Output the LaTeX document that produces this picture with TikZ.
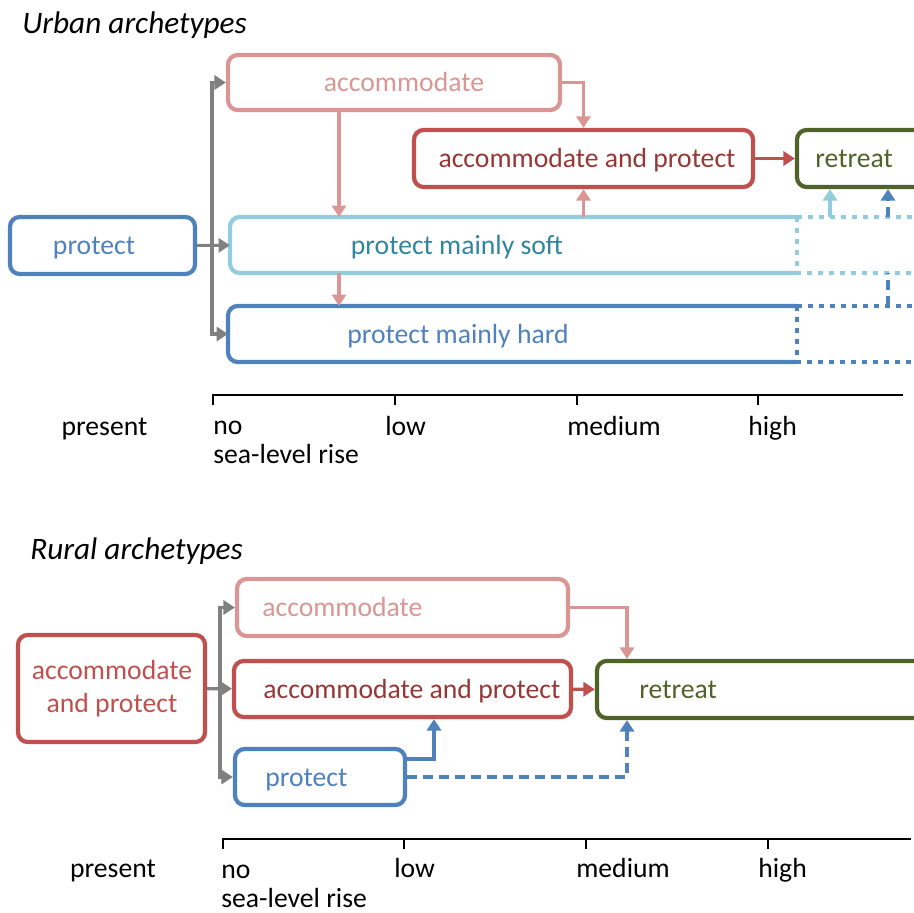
\documentclass[tikz,border=0pt]{standalone}
\usepackage{fontspec}
\setmainfont{Carlito}
\usepackage{tikz}
\usetikzlibrary{arrows.meta,fit}

\definecolor{acclight}{HTML}{D99694}
\definecolor{apred}{HTML}{C0504D}
\definecolor{aptext}{HTML}{953735}
\definecolor{retgreen}{HTML}{4F6228}
\definecolor{protblue}{HTML}{4F81BD}
\definecolor{softblue}{HTML}{93CDDD}
\definecolor{softtext}{HTML}{31859C}
\definecolor{linkgrey}{HTML}{808080}

\begin{document}
\begin{tikzpicture}[x=0.02cm,y=-0.02cm,
	box/.style={draw,line width=2.4pt,rounded corners=5.5pt,inner sep=0pt},
	open/.style={inner sep=0pt,outer sep=0pt},
	edge/.style={line width=2.4pt},
	txt/.style={font=\fontsize{15.75}{16}\selectfont,inner sep=0pt,text height=10.4pt,text depth=0pt},
	txttwo/.style={font=\fontsize{15.75}{18.7}\selectfont,inner sep=0pt,align=center},
	lbl/.style={font=\fontsize{15.75}{16.5}\selectfont,inner sep=0pt,anchor=base west,align=left},
	ttl/.style={font=\fontsize{17.8}{20}\selectfont\itshape,inner sep=0pt,anchor=base west},
	link/.style={line width=1.8pt,-{Triangle[length=6.5pt,width=8pt]}},
	dots/.style={dash pattern=on 0.1cm off 0.12cm},
	dashes/.style={dash pattern=on 0.2cm off 0.12cm},
	axis/.style={line width=1.1pt}]
	\useasboundingbox (0,0) rectangle (914,913);
	\clip (0,0) rectangle (914,913);

	\node[ttl] (ut) at (22,33) {Urban archetypes};
	\node[box,draw=acclight,fit={(228,55)(560,110)}] (ua) {};
	\node[txt,text=acclight] (uat) at (404,82.5) {accommodate};
	\node[box,draw=apred,fit={(414,130)(753,187)}] (uap) {};
	\node[txt,text=aptext] (uapt) at (587,158.5) {accommodate and protect};
	\node[box,draw=retgreen,fit={(797,130)(960,187)}] (ur) {};
	\node[txt,text=retgreen,anchor=west] (urt) at (815,158.5) {retreat};
	\node[box,draw=protblue,fit={(10,217)(195,274)}] (up) {};
	\node[txt,text=protblue] (upt) at (94,245.5) {protect};
	\node[open,fit={(230,217)(797,273)}] (us) {};
	\node[txt,text=softtext] (ust) at (457,245) {protect mainly soft};
	\node[open,fit={(228,306)(797,362)}] (uh) {};
	\node[txt,text=protblue] (uht) at (458,334) {protect mainly hard};
	\draw[edge,softblue,rounded corners=5.5pt] (us.north east) -- (us.north west) -- (us.south west) -- (us.south east);
	\draw[edge,softblue,dots] (us.north east) -- ++(130,0) (us.north east) -- (us.south east) -- ++(130,0);
	\draw[edge,protblue,rounded corners=5.5pt] (uh.north east) -- (uh.north west) -- (uh.south west) -- (uh.south east);
	\draw[edge,protblue,dots] (uh.north east) -- ++(130,0) (uh.north east) -- (uh.south east) -- ++(130,0);

	\coordinate (ub) at (212,245.5);
	\coordinate (ux1) at (339,0);
	\coordinate (ux2) at (830,0);
	\coordinate (ux3) at (888,0);
	\draw[link,linkgrey] (up) -- (us);
	\draw[link,linkgrey] (ub) |- (ua);
	\draw[link,linkgrey] (ub) |- (uh);
	\draw[link,acclight] (ua.south -| ux1) -- (us.north -| ux1);
	\draw[link,acclight] (us.south -| ux1) -- (uh.north -| ux1);
	\draw[link,acclight] (ua) -| (uap);
	\draw[link,acclight] (us.north -| uap) -- (uap);
	\draw[link,apred] (uap) -- (ur);
	\draw[link,softblue] (us.north -| ux2) -- (ur.south -| ux2);
	\draw[line width=1.8pt,protblue,dashes] (uh.north -| ux3) -- (us.south -| ux3);
	\draw[link,protblue,dashes] (us.north -| ux3) -- (ur.south -| ux3);

	\draw[axis] (213,405) -- (213,395) -- (903,395);
	\draw[axis] (395,395) -- (395,405);
	\draw[axis] (577,395) -- (577,405);
	\draw[axis] (758,395) -- (758,405);
	\node[lbl,anchor=base] (ul) at (104.5,435) {present};
	\node[lbl] (ul0) at (213,463) {no\\sea-level rise};
	\node[lbl] (ul1) at (385,435) {low};
	\node[lbl] (ul2) at (567,435) {medium};
	\node[lbl] (ul3) at (748,435) {high};

	\node[ttl] (rt) at (30,559) {Rural archetypes};
	\node[box,draw=acclight,fit={(237,579)(568,636)}] (ra) {};
	\node[txt,text=acclight,anchor=west] (rat) at (262,607.5) {accommodate};
	\node[box,draw=apred,fit={(234,661)(571,717)}] (rap) {};
	\node[txt,text=aptext,anchor=west] (rapt) at (263,689) {accommodate and protect};
	\node[box,draw=protblue,fit={(235,749)(405,805)}] (rp) {};
	\node[txt,text=protblue,anchor=west] (rpt) at (265,777) {protect};
	\node[box,draw=apred,fit={(18,635)(205,742)}] (r0) {};
	\node[txttwo,text=apred] (r0t) at (112,688.5) {accommodate\\and protect};
	\node[box,draw=retgreen,fit={(597,661)(960,718)}] (rr) {};
	\node[txt,text=retgreen,anchor=west] (rrt) at (639,689.5) {retreat};

	\coordinate (rb) at (220,689);
	\coordinate (rx1) at (627,0);
	\coordinate (rx2) at (434,759);
	\draw[link,linkgrey] (r0) -- (rap);
	\draw[link,linkgrey] (rb) |- (ra);
	\draw[link,linkgrey] (rb) |- (rp);
	\draw[link,acclight] (ra) -| (rr.north -| rx1);
	\draw[link,apred] (rap) -- (rr);
	\draw[link,protblue] (rp.east |- rx2) -| (rap.south -| rx2);
	\draw[link,protblue,dashes] (rp) -| (rr.south -| rx1);

	\draw[axis] (223,849) -- (223,839) -- (911,839);
	\draw[axis] (404,839) -- (404,849);
	\draw[axis] (586,839) -- (586,849);
	\draw[axis] (768,839) -- (768,849);
	\node[lbl,anchor=base] (rl) at (113,877) {present};
	\node[lbl] (rl0) at (221,907) {no\\sea-level rise};
	\node[lbl] (rl1) at (394,877) {low};
	\node[lbl] (rl2) at (576,877) {medium};
	\node[lbl] (rl3) at (758,877) {high};
\end{tikzpicture}
\end{document}
